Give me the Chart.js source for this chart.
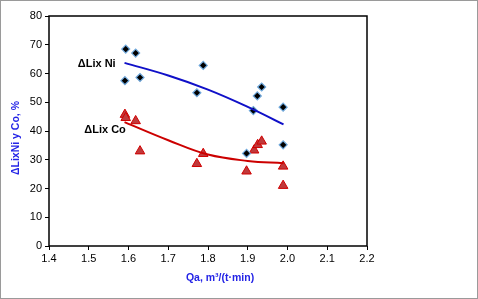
<!DOCTYPE html>
<html>
<head>
<meta charset="utf-8">
<script src="https://cdn.jsdelivr.net/npm/chart.js@4"></script>
<style>
  body { margin: 0; background: #fff; }
  #wrap { width: 478px; height: 299px; }
</style>
</head>
<body>
<div id="wrap"><canvas id="lixChart" width="478" height="299"></canvas></div>
<script>
// data
const niQa = [1.593, 1.618, 1.591, 1.629, 1.772, 1.788, 1.897, 1.914, 1.924, 1.935, 1.989, 1.989];
const niLix = [68.5, 67.1, 57.5, 58.6, 53.3, 62.8, 32.2, 47.1, 52.2, 55.3, 48.3, 35.2];

const coQa = [1.591, 1.593, 1.618, 1.629, 1.772, 1.788, 1.897, 1.916, 1.925, 1.935, 1.989, 1.989];
const coLix = [45.7, 44.6, 43.5, 33.0, 28.6, 32.1, 26.0, 33.3, 35.2, 36.4, 27.7, 21.0];

// trend lines
const trendQa = [1.59, 1.7, 1.8, 1.9, 1.99];
const niTrend = [63.7, 59.3, 54.4, 48.4, 42.3];
const coTrend = [43.1, 36.8, 31.8, 29.6, 28.8];

const xTicks = ['1.4', '1.5', '1.6', '1.7', '1.8', '1.9', '2.0', '2.1', '2.2'];

function toPoints(xs, ys) {
  return xs.map((x, i) => ({ x: x, y: ys[i] }));
}

// labels next to the curves, axis titles, frames
const extrasPlugin = {
  id: 'extras',
  afterDraw(chart) {
    const c = chart.ctx;
    const xs = chart.scales.x, ys = chart.scales.y;
    c.save();
    c.fillStyle = '#000';
    c.font = 'bold 11px "Liberation Sans", Arial, sans-serif';
    c.textAlign = 'center';
    c.textBaseline = 'middle';
    c.fillText('\u0394Lix Ni', xs.getPixelForValue(1.52), ys.getPixelForValue(63.4));
    c.fillText('\u0394Lix Co', xs.getPixelForValue(1.541), ys.getPixelForValue(40.2));

    // axis titles
    c.fillStyle = '#2424e6';
    c.font = 'bold 10.5px "Liberation Sans", Arial, sans-serif';
    c.fillText('Qa, m³/(t·min)', 220, 278);
    c.translate(16, 138);
    c.rotate(-Math.PI / 2);
    c.fillText('\u0394LixNi y Co, %', 0, 0);
    c.setTransform(1, 0, 0, 1, 0, 0);

    // plot box
    const a = chart.chartArea;
    c.strokeStyle = '#000';
    c.lineWidth = 1.5;
    c.strokeRect(a.left, a.top, a.right - a.left, a.bottom - a.top);
    // outer gray border
    c.strokeStyle = '#9a9a9a';
    c.lineWidth = 1;
    c.strokeRect(0.5, 0.5, chart.width - 1, chart.height - 1);
    c.restore();
  }
};

const ctx = document.getElementById('lixChart').getContext('2d');

const myChart = new Chart(ctx, {
  type: 'scatter',
  data: {
    datasets: [
      {
        label: 'Ni trend',
        type: 'line',
        data: toPoints(trendQa, niTrend),
        borderColor: '#1010c8',
        borderWidth: 2,
        pointRadius: 0,
        tension: 0.4,
        fill: false
      },
      {
        label: 'Co trend',
        type: 'line',
        data: toPoints(trendQa, coTrend),
        borderColor: '#cc0000',
        borderWidth: 2,
        pointRadius: 0,
        tension: 0.4,
        fill: false
      },
      {
        label: 'ΔLix Ni',
        data: toPoints(niQa, niLix),
        pointStyle: 'rectRot',
        pointRadius: 4,
        backgroundColor: '#000',
        borderColor: '#6fa8dc',
        borderWidth: 1.2
      },
      {
        label: 'ΔLix Co',
        data: toPoints(coQa, coLix),
        pointStyle: 'triangle',
        pointRadius: 5.5,
        backgroundColor: '#c0393b',
        borderColor: '#d00000',
        borderWidth: 1
      }
    ]
  },
  options: {
    responsive: false,
    animation: false,
    layout: { padding: { top: 16, right: 111, left: 0, bottom: 0 } },
    scales: {
      x: {
        type: 'linear',
        min: 1.4,
        max: 2.2,
        afterFit(scale) { scale.height = 53; },
        grid: { display: true, drawOnChartArea: false, drawTicks: true, tickLength: 4, color: '#000' },
        border: { display: false },
        ticks: {
          stepSize: 0.1,
          color: '#000',
          padding: 2,
          font: { family: '"Liberation Sans", Arial', size: 11 },
          callback: (v, i) => xTicks[i]
        }
      },
      y: {
        min: 0,
        max: 80,
        afterFit(scale) { scale.width = 49; },
        grid: { display: true, drawOnChartArea: false, drawTicks: true, tickLength: 4, color: '#000' },
        border: { display: false },
        ticks: {
          stepSize: 10,
          color: '#000',
          padding: 3,
          font: { family: '"Liberation Sans", Arial', size: 11 }
        }
      }
    },
    plugins: {
      legend: { display: false },
      tooltip: { enabled: false }
    }
  },
  plugins: [extrasPlugin]
});
</script>
</body>
</html>
